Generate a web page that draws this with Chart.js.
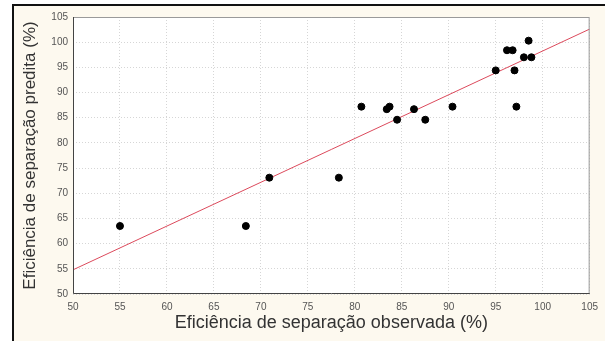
<!DOCTYPE html>
<html lang="pt">
<head>
  <meta charset="UTF-8">
  <title>Eficiência de separação</title>
  <script src="https://cdn.jsdelivr.net/npm/chart.js"></script>
  <style>
    html, body { margin: 0; padding: 0; background: #ffffff; }
    #frame {
      position: absolute; left: 12px; top: 4px;
      width: 591px; height: 335px;
      background: #fdf9ef;
      border-left: 2px solid #111;
      border-top: 2px solid #111;
    }
  </style>
</head>
<body>
  <div id="frame"><canvas id="chart" width="591" height="335"></canvas></div>

  <script>
    // observed vs predicted separation efficiency (%)
    const observada = [55.0, 68.4, 70.9, 78.3, 80.7, 83.4, 83.7, 84.5, 86.3, 87.5,
                       90.4, 95.0, 96.2, 96.8, 97.0, 97.2, 98.0, 98.5, 98.8];
    const predita   = [63.5, 63.5, 73.1, 73.1, 87.2, 86.7, 87.2, 84.6, 86.7, 84.6,
                       87.2, 94.4, 98.4, 98.4, 94.4, 87.2, 97.0, 100.3, 97.0];
    // fitted line end points
    const retaX = [50, 105];
    const retaY = [54.8, 102.6];

    const axisTicks = [50, 55, 60, 65, 70, 75, 80, 85, 90, 95, 100, 105];

    const pontos = observada.map((v, i) => ({ x: v, y: predita[i] }));
    const reta = retaX.map((v, i) => ({ x: v, y: retaY[i] }));

    // white plot area + frame
    const plotBg = {
      id: 'plotBg',
      beforeDraw(chart) {
        const { ctx, chartArea: a } = chart;
        ctx.save();
        ctx.fillStyle = '#ffffff';
        ctx.fillRect(a.left, a.top, a.right - a.left, a.bottom - a.top);
        ctx.restore();
      },
      afterDraw(chart) {
        const { ctx, chartArea: a } = chart;
        ctx.save();
        ctx.strokeStyle = '#9a9a9a';
        ctx.lineWidth = 1;
        ctx.beginPath();
        ctx.moveTo(a.left, a.top + 0.5);
        ctx.lineTo(a.right - 0.5, a.top + 0.5);
        ctx.lineTo(a.right - 0.5, a.bottom);
        ctx.stroke();
        ctx.strokeStyle = '#444';
        ctx.beginPath();
        ctx.moveTo(a.left + 0.5, a.top);
        ctx.lineTo(a.left + 0.5, a.bottom - 0.5);
        ctx.lineTo(a.right, a.bottom - 0.5);
        ctx.stroke();
        ctx.restore();
      }
    };

    const tickFont = { family: 'Liberation Sans', size: 10 };
    const titleFont = { family: 'Liberation Sans', size: 17 };

    new Chart(document.getElementById('chart'), {
      type: 'scatter',
      data: {
        datasets: [
          {
            label: 'Pontos',
            data: pontos,
            backgroundColor: '#000',
            borderColor: '#000',
            pointRadius: 3.5,
            pointHoverRadius: 3.5
          },
          {
            type: 'line',
            label: 'Reta',
            data: reta,
            borderColor: '#dc4a5c',
            borderWidth: 1,
            pointRadius: 0,
            fill: false
          }
        ]
      },
      options: {
        responsive: false,
        animation: false,
        layout: { padding: { left: 6, top: 10, right: 14, bottom: 0 } },
        plugins: { legend: { display: false }, tooltip: { enabled: false } },
        scales: {
          x: {
            type: 'linear',
            min: 50, max: 105,
            afterBuildTicks: (s) => { s.ticks = axisTicks.map(v => ({ value: v })); },
            afterFit: (s) => { s.height = 47; },
            ticks: { font: tickFont, color: '#555', padding: 7 },
            grid: { color: '#d6d6d6', drawTicks: false },
            border: { display: false, dash: [1, 2] },
            title: {
              display: true,
              text: 'Eficiência de separação observada (%)',
              font: { family: 'Liberation Sans', size: 18 }, color: '#333',
              padding: { top: 0, bottom: 7 }
            }
          },
          y: {
            type: 'linear',
            min: 50, max: 105,
            afterBuildTicks: (s) => { s.ticks = axisTicks.map(v => ({ value: v })); },
            afterFit: (s) => { s.width = 53; },
            ticks: { font: tickFont, color: '#555', padding: 5 },
            grid: { color: '#d6d6d6', drawTicks: false },
            border: { display: false, dash: [1, 2] },
            title: {
              display: true,
              text: 'Eficiência de separação predita (%)',
              font: titleFont, color: '#333',
              padding: { top: 0, bottom: 0 }
            }
          }
        }
      },
      plugins: [plotBg]
    });
  </script>
</body>
</html>
